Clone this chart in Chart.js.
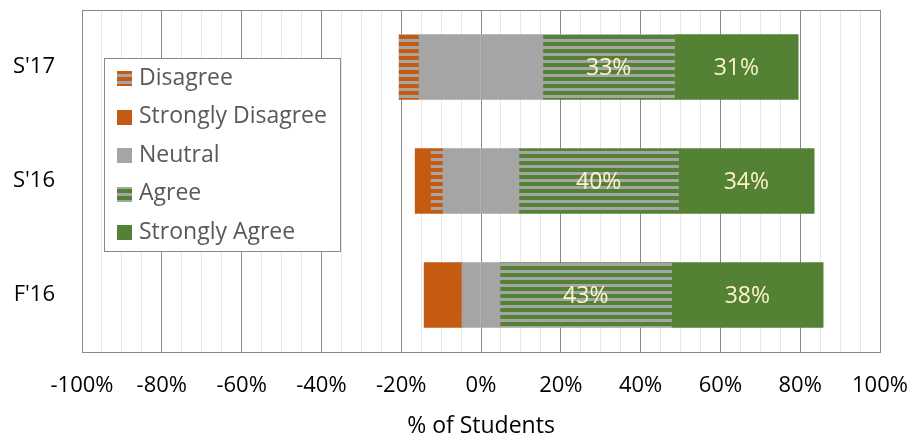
<!DOCTYPE html>
<html>
<head>
<meta charset="utf-8">
<script src="https://cdn.jsdelivr.net/npm/chart.js@4.4.0/dist/chart.umd.min.js"></script>
<style>
    html, body { margin: 0; padding: 0; background: #fff; }
    #wrap { width: 914px; height: 440px; }
</style>
</head>
<body>
<div id="wrap"><canvas id="likertChart" width="914" height="440"></canvas></div>
<script>
// Survey terms, top to bottom
const terms = ["S'17", "S'16", "F'16"];

// Response shares in % of students
const stronglyDisagree = [0, 4, 9.5];
const disagree = [5, 3, 0];
const neutral = [31, 19, 9.5];
const agree = [33, 40, 43];
const stronglyAgree = [31, 34, 38];

// Axis ticks (labelled every 20%, light lines every 5%)
const xMin = -100;
const xMax = 100;
const xMinorStep = 5;
const xMajorStep = 20;

const legendNames = ['Disagree', 'Strongly Disagree', 'Neutral', 'Agree', 'Strongly Agree'];

(function() {
    const ORANGE = '#C55A11';
    const GRAY = '#A5A5A5';
    const GREEN = '#548235';
    const FONT = '"Open Sans", "Liberation Sans", sans-serif';

    /**
     * Horizontal stripe pattern like the Excel fill
     */
    function stripes(color) {
        const c = document.createElement('canvas');
        c.width = 7;
        c.height = 7;
        const g = c.getContext('2d');
        g.fillStyle = GRAY;
        g.fillRect(0, 0, 7, 7);
        g.fillStyle = color;
        g.fillRect(0, 0, 7, 4);
        return g.createPattern(c, 'repeat');
    }

    const disagreeFill = stripes(ORANGE);
    const agreeFill = stripes(GREEN);

    const half = neutral.map(v => v / 2);
    const neg = arr => arr.map(v => -v);

    const common = { barThickness: 65, borderWidth: 0 };

    const datasets = [
        { label: 'Neutral', data: neg(half), backgroundColor: GRAY, ...common },
        { label: 'Disagree', data: neg(disagree), backgroundColor: disagreeFill, ...common },
        { label: 'Strongly Disagree', data: neg(stronglyDisagree), backgroundColor: ORANGE, ...common },
        { label: 'Neutral', data: half, backgroundColor: GRAY, ...common },
        { label: 'Agree', data: agree, backgroundColor: agreeFill, ...common, showValue: true },
        { label: 'Strongly Agree', data: stronglyAgree, backgroundColor: GREEN, ...common, showValue: true }
    ];

    const legendFills = {
        'Disagree': disagreeFill,
        'Strongly Disagree': ORANGE,
        'Neutral': GRAY,
        'Agree': agreeFill,
        'Strongly Agree': GREEN
    };

    // Plot frame, under the bars
    const framePlugin = {
        id: 'frame',
        beforeDatasetsDraw(chart) {
            const { ctx, chartArea: a } = chart;
            ctx.save();
            ctx.strokeStyle = '#8A8A8A';
            ctx.lineWidth = 1;
            ctx.strokeRect(Math.round(a.left) + 0.5, Math.round(a.top) + 0.5,
                Math.round(a.right - a.left), Math.round(a.bottom - a.top));
            ctx.restore();
        }
    };

    // Percent labels inside the agree segments
    const valuePlugin = {
        id: 'values',
        afterDatasetsDraw(chart) {
            const ctx = chart.ctx;
            ctx.save();
            ctx.fillStyle = '#FFF2CC';
            ctx.font = '23px ' + FONT;
            ctx.textAlign = 'center';
            ctx.textBaseline = 'middle';
            chart.data.datasets.forEach((ds, i) => {
                if (!ds.showValue) return;
                chart.getDatasetMeta(i).data.forEach((bar, j) => {
                    const cx = (bar.x + bar.base) / 2;
                    ctx.fillText(ds.data[j] + '%', cx, bar.y + 1);
                });
            });
            ctx.restore();
        }
    };

    // Boxed legend sitting inside the plot
    const legendPlugin = {
        id: 'boxLegend',
        afterDraw(chart) {
            const { ctx, chartArea: a } = chart;
            const left = Math.round(a.left + 22);
            const top = Math.round(a.top + 48);
            const w = 236;
            const h = 193;
            ctx.save();
            ctx.fillStyle = '#fff';
            ctx.fillRect(left, top, w, h);
            ctx.strokeStyle = '#8A8A8A';
            ctx.lineWidth = 1;
            ctx.strokeRect(left + 0.5, top + 0.5, w, h);
            ctx.font = '23px ' + FONT;
            ctx.textBaseline = 'middle';
            legendNames.forEach((name, i) => {
                const cy = top + 20 + i * 38.6;
                ctx.fillStyle = legendFills[name];
                ctx.fillRect(left + 13, Math.round(cy - 7), 15, 15);
                ctx.fillStyle = '#595959';
                ctx.fillText(name, left + 35, cy);
            });
            ctx.restore();
        }
    };

    function init() {
        const ctx = document.getElementById('likertChart').getContext('2d');
        new Chart(ctx, {
            type: 'bar',
            data: { labels: terms, datasets: datasets },
            options: {
                indexAxis: 'y',
                responsive: false,
                animation: false,
                devicePixelRatio: 1,
                layout: { padding: { top: 10, right: 34, left: 0, bottom: 0 } },
                plugins: {
                    legend: { display: false },
                    tooltip: { enabled: false }
                },
                scales: {
                    x: {
                        stacked: true,
                        min: xMin,
                        max: xMax,
                        afterFit(scale) {
                            scale.height = 88;
                            scale.paddingLeft = 0;
                            scale.paddingRight = 0;
                        },
                        afterBuildTicks(scale) {
                            const ticks = [];
                            for (let v = xMin; v <= xMax; v += xMinorStep) ticks.push({ value: v });
                            scale.ticks = ticks;
                        },
                        grid: {
                            drawTicks: false,
                            color: c => (c.tick && c.tick.value % xMajorStep === 0) ? '#8A8A8A' : '#E8E8E8'
                        },
                        border: { display: false },
                        ticks: {
                            autoSkip: false,
                            maxRotation: 0,
                            padding: 21,
                            color: '#000',
                            font: { family: FONT, size: 22 },
                            callback: v => (v % xMajorStep === 0) ? v + '%' : ''
                        },
                        title: {
                            display: true,
                            text: '% of Students',
                            color: '#000',
                            font: { family: FONT, size: 23 },
                            padding: { top: 0, bottom: 0 }
                        }
                    },
                    y: {
                        stacked: true,
                        afterFit(scale) {
                            scale.width = 82;
                            scale.paddingTop = 0;
                            scale.paddingBottom = 0;
                        },
                        grid: { display: false, drawTicks: false },
                        border: { display: false },
                        ticks: {
                            padding: 27,
                            color: '#000',
                            font: { family: FONT, size: 22 }
                        }
                    }
                }
            },
            plugins: [framePlugin, valuePlugin, legendPlugin]
        });
    }

    if (document.readyState === 'loading') {
        document.addEventListener('DOMContentLoaded', init);
    } else {
        init();
    }
})();
</script>
</body>
</html>
